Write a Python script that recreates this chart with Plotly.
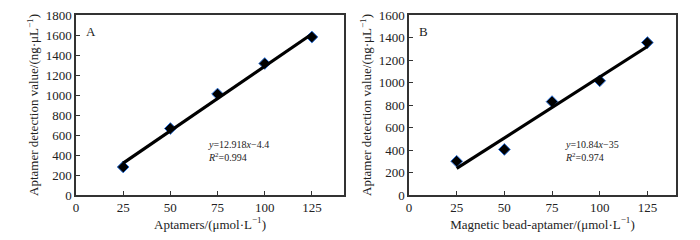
import plotly.graph_objects as go

conc = [25, 50, 75, 100, 125]
a_vals = [280, 665, 1010, 1315, 1580]
b_vals = [300, 405, 830, 1015, 1355]
a_slope, a_icpt = 12.918, -4.4
b_slope, b_icpt = 10.84, -35
fit_x = [25, 125]
x_ticks = [0, 25, 50, 75, 100, 125]
a_yticks = [0, 200, 400, 600, 800, 1000, 1200, 1400, 1600, 1800]
b_yticks = [0, 200, 400, 600, 800, 1000, 1200, 1400, 1600]

FONT = "Liberation Serif, Times New Roman, serif"
W, H = 700, 240
fig = go.Figure()

marker = dict(symbol="diamond", size=9, color="black", line=dict(color="#2a6fd6", width=1))
fig.add_trace(go.Scatter(x=conc, y=a_vals, mode="markers", marker=marker, xaxis="x", yaxis="y", showlegend=False))
fig.add_trace(go.Scatter(x=fit_x, y=[a_slope * v + a_icpt for v in fit_x], mode="lines",
                         line=dict(color="black", width=3.2), xaxis="x", yaxis="y", showlegend=False))
fig.add_trace(go.Scatter(x=conc, y=b_vals, mode="markers", marker=marker, xaxis="x2", yaxis="y2", showlegend=False))
fig.add_trace(go.Scatter(x=fit_x, y=[b_slope * v + b_icpt for v in fit_x], mode="lines",
                         line=dict(color="black", width=3.2), xaxis="x2", yaxis="y2", showlegend=False))

ax_common = dict(showline=True, linecolor="#333", linewidth=1.5, mirror=True, ticks="inside",
                 ticklen=4, tickcolor="#333", showgrid=False, zeroline=False, automargin=False,
                 tickfont=dict(family=FONT, size=13, color="#222"))
TF = dict(family=FONT, size=13, color="#222")
ydom = [1 - 195 / H, 1 - 15 / H]

fig.update_layout(
    width=W, height=H, margin=dict(l=0, r=0, t=0, b=0),
    plot_bgcolor="white", paper_bgcolor="white",
    font=dict(family=FONT, size=13, color="#222"),
    xaxis=dict(domain=[76 / W, 344 / W], range=[0, 142], tickvals=x_ticks, anchor="y",
               title=dict(text="Aptamers/(μmol·L<sup>−1</sup>)", font=TF, standoff=2),
               **ax_common),
    yaxis=dict(domain=ydom, range=[0, 1800], tickvals=a_yticks, anchor="x",
               title=dict(text="Aptamer detection value/(ng·μL<sup>−1</sup>)", font=TF, standoff=4),
               **ax_common),
    xaxis2=dict(domain=[409 / W, 676 / W], range=[0, 140], tickvals=x_ticks, anchor="y2",
                title=dict(text="Magnetic bead-aptamer/(μmol·L<sup>−1</sup>)", font=TF, standoff=2),
                **ax_common),
    yaxis2=dict(domain=ydom, range=[0, 1600], tickvals=b_yticks, anchor="x2",
                title=dict(text="Aptamer detection value/(ng·μL<sup>−1</sup>)", font=TF, standoff=4),
                **ax_common),
)

fig.add_annotation(x=0.03, y=0.96, xref="x domain", yref="y domain", text="A", showarrow=False,
                   xanchor="left", yanchor="top", font=dict(family=FONT, size=13))
fig.add_annotation(x=0.03, y=0.96, xref="x2 domain", yref="y2 domain", text="B", showarrow=False,
                   xanchor="left", yanchor="top", font=dict(family=FONT, size=13))
fig.add_annotation(x=69, y=440, xref="x", yref="y", showarrow=False, xanchor="left", align="left",
                   text="<i>y</i>=12.918<i>x</i>−4.4<br><i>R</i><sup>2</sup>=0.994",
                   font=dict(family=FONT, size=10))
fig.add_annotation(x=81, y=390, xref="x2", yref="y2", showarrow=False, xanchor="left", align="left",
                   text="<i>y</i>=10.84<i>x</i>−35<br><i>R</i><sup>2</sup>=0.974",
                   font=dict(family=FONT, size=10))

fig.write_html("out.html", config={"displayModeBar": False},
               post_script="document.body.style.margin='0';")
